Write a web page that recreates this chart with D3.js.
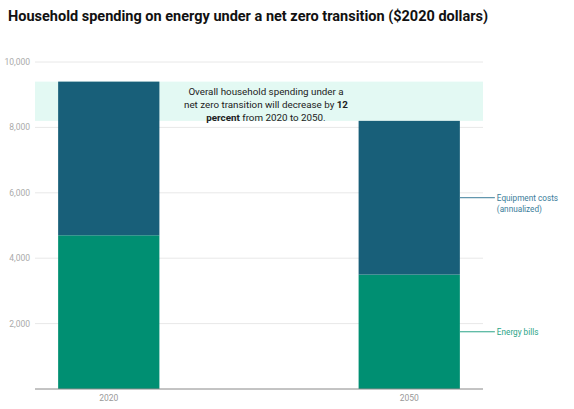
<!DOCTYPE html>
<html><head><meta charset="utf-8">
<script src="https://cdn.jsdelivr.net/npm/d3@7"></script>
<style>body{margin:0;background:#fff;font-family:Roboto,sans-serif;}</style>
</head><body>
<svg id="c" width="574" height="409"></svg>
<script>
const years = ["2020", "2050"];
const energyBills = [4700, 3500];
const equipmentCosts = [4700, 4700];
const yTicks = [0, 2000, 4000, 6000, 8000, 10000];
const seriesNames = ["Energy bills", "Equipment costs (annualized)"];
const colors = ["#008f72", "#185f79"];

const svg = d3.select("#c");
const x = d3.scaleBand().domain(years).range([35, 483]).paddingInner(0.663).paddingOuter(0.077);
const y = d3.scaleLinear().domain([0, 10000]).range([389, 62]);

svg.append("text").attr("x", 8).attr("y", 21).attr("font-size", 14.5).attr("font-weight", "bold")
  .attr("fill", "#111").text("Household spending on energy under a net zero transition ($2020 dollars)");

// gridlines
const g = svg.append("g");
g.selectAll("line.grid").data(yTicks.slice(1)).join("line")
  .attr("x1", 35).attr("x2", 483).attr("y1", d => y(d)).attr("y2", d => y(d))
  .attr("stroke", "#e8e8e8").attr("stroke-width", 1);
g.selectAll("text.tick").data(yTicks.slice(1)).join("text")
  .attr("x", 30).attr("y", d => y(d) + 3).attr("text-anchor", "end")
  .attr("font-size", 8.5).attr("fill", "#aaa").text(d => d3.format(",")(d));

// highlight band
const totals = years.map((_, i) => energyBills[i] + equipmentCosts[i]);
svg.append("rect").attr("x", 35).attr("width", 448)
  .attr("y", y(d3.max(totals))).attr("height", y(d3.min(totals)) - y(d3.max(totals)))
  .attr("fill", "#e3f9f3");

const stackData = years.map((yr, i) => ({year: yr, bills: energyBills[i], equip: equipmentCosts[i]}));
const stack = d3.stack().keys(["bills", "equip"])(stackData);
svg.selectAll("g.s").data(stack).join("g").attr("fill", (d, i) => colors[i])
  .selectAll("rect").data(d => d).join("rect")
  .attr("x", d => x(d.data.year)).attr("width", x.bandwidth())
  .attr("y", d => y(d[1])).attr("height", d => y(d[0]) - y(d[1]));

// annotation
const ann = svg.append("text").attr("text-anchor", "middle").attr("font-size", 9.8).attr("fill", "#222");
ann.append("tspan").attr("x", 266).attr("y", 95).text("Overall household spending under a");
ann.append("tspan").attr("x", 266).attr("y", 108).text("net zero transition will decrease by ")
  .append("tspan").attr("font-weight", "bold").text("12");
const l3 = ann.append("tspan").attr("x", 266).attr("y", 121);
l3.append("tspan").attr("font-weight", "bold").text("percent");
l3.append("tspan").text(" from 2020 to 2050.");

// axis baseline
svg.append("line").attr("x1", 35).attr("x2", 483).attr("y1", y(0)).attr("y2", y(0))
  .attr("stroke", "#888").attr("stroke-width", 1);
svg.selectAll("text.xl").data(years).join("text")
  .attr("x", d => x(d) + x.bandwidth() / 2).attr("y", 401).attr("text-anchor", "middle")
  .attr("font-size", 8.5).attr("fill", "#999").text(d => d);

// series labels on last bar
const last = years.length - 1;
const xr = x(years[last]) + x.bandwidth();
const labelColors = ["#2aa487", "#3a7d9a"];
const mids = [energyBills[last] / 2, energyBills[last] + equipmentCosts[last] / 2];
mids.forEach((m, i) => {
  svg.append("line").attr("x1", xr).attr("x2", xr + 35).attr("y1", y(m)).attr("y2", y(m))
    .attr("stroke", labelColors[i]).attr("stroke-width", 1);
});
svg.append("text").attr("x", xr + 37).attr("y", y(mids[0]) + 3).attr("font-size", 8.2)
  .attr("fill", labelColors[0]).text(seriesNames[0]);
const eq = svg.append("text").attr("font-size", 8.2).attr("fill", labelColors[1]);
eq.append("tspan").attr("x", xr + 37).attr("y", y(mids[1]) + 3).text("Equipment costs");
eq.append("tspan").attr("x", xr + 37).attr("y", y(mids[1]) + 14).text("(annualized)");
</script>
</body></html>
